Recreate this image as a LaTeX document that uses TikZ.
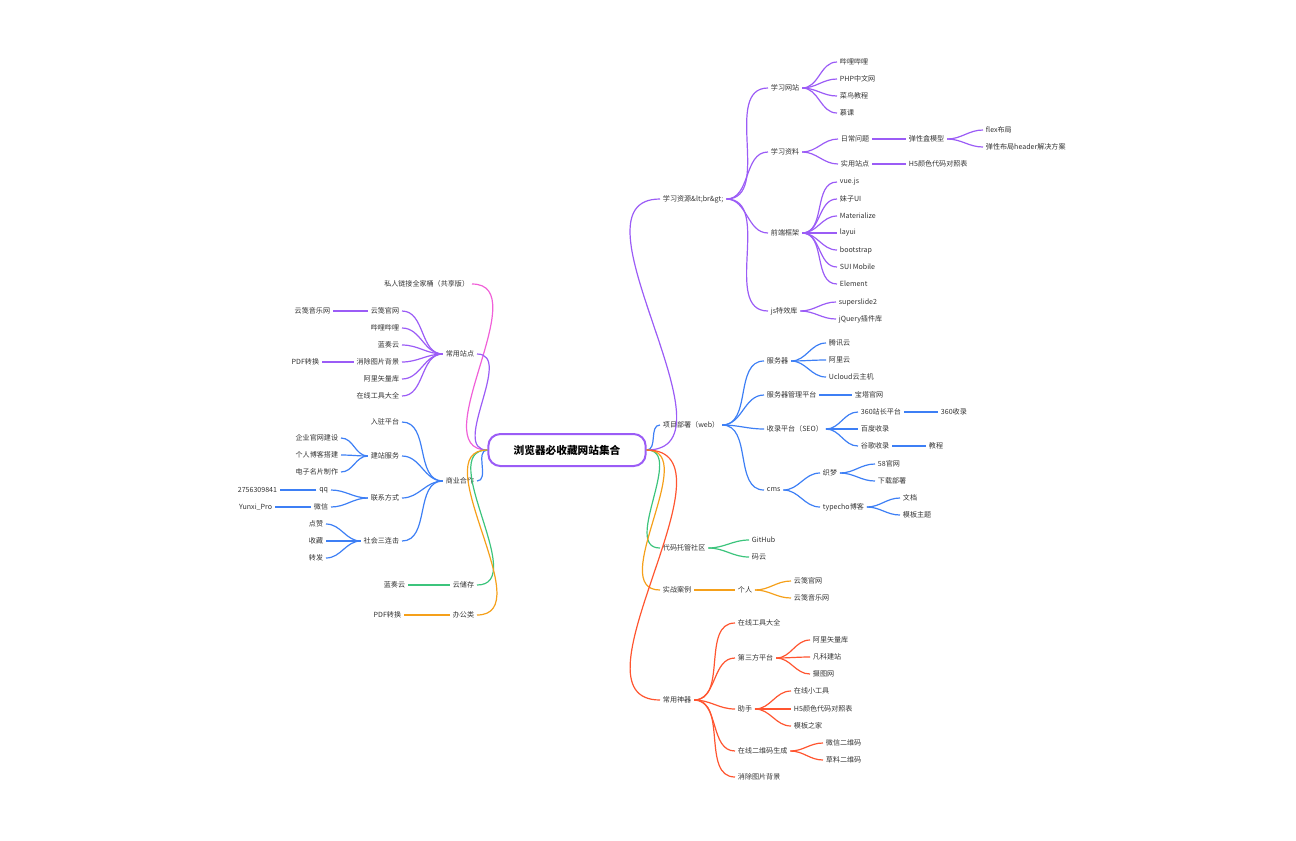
\documentclass[tikz,border=0pt]{standalone}
\usepackage{fontspec}
\setmainfont{Noto Sans CJK SC}
\begin{document}
\begin{tikzpicture}[x=0.75pt,y=-0.75pt,
  txt/.style={inner xsep=2pt,inner ysep=1pt,font=\fontsize{5.3}{6}\selectfont,text=black!80}]
\definecolor{cpu}{HTML}{9B5CF6}
\definecolor{cbl}{HTML}{3D7FF5}
\definecolor{cgr}{HTML}{3CC47C}
\definecolor{cog}{HTML}{F5A01A}
\definecolor{crd}{HTML}{FF5530}
\definecolor{cpk}{HTML}{F060D8}
\tikzset{pu/.style={draw=cpu,line width=0.9pt},bl/.style={draw=cbl,line width=0.9pt},
 gr/.style={draw=cgr,line width=0.9pt},og/.style={draw=cog,line width=0.9pt},
 rd/.style={draw=crd,line width=0.9pt},pk/.style={draw=cpk,line width=0.9pt}}
\newcommand\rn[4]{\node[txt,anchor=west] (#1) at (#2,#3) {#4};}
\newcommand\lnn[4]{\node[txt,anchor=east] (#1) at (#2,#3) {#4};}
\newcommand\re[3]{\draw[#1] (#2.east) to[out=0,in=180] (#3.west);}
\newcommand\lre[3]{\draw[#1] (#2.west) to[out=180,in=0] (#3.east);}
\useasboundingbox (0,0) rectangle (1296,840);
\node[draw=cpu,line width=1.5pt,rounded corners=9pt,minimum width=118,minimum height=24,font=\fontsize{8}{9}\selectfont\bfseries] (root) at (567,450) {浏览器必收藏网站集合};
% right level 1
\rn{a}{660}{199}{学习资源\&lt;br\&gt;}
\rn{b}{660}{425}{项目部署（web）}
\rn{c}{660}{548}{代码托管社区}
\rn{d}{660}{590}{实战案例}
\rn{e}{660}{700}{常用神器}
\re{pu}{root}{a}\re{bl}{root}{b}\re{gr}{root}{c}\re{og}{root}{d}\re{rd}{root}{e}
% 学习资源
\rn{a1}{768}{88}{学习网站}\rn{a2}{768}{152}{学习资料}\rn{a3}{768}{233}{前端框架}\rn{a4}{768}{311}{js特效库}
\re{pu}{a}{a1}\re{pu}{a}{a2}\re{pu}{a}{a3}\re{pu}{a}{a4}
\rn{a11}{837}{62}{哔哩哔哩}\rn{a12}{837}{79}{PHP中文网}\rn{a13}{837}{96}{菜鸟教程}\rn{a14}{837}{113}{慕课}
\re{pu}{a1}{a11}\re{pu}{a1}{a12}\re{pu}{a1}{a13}\re{pu}{a1}{a14}
\rn{a21}{838}{139}{日常问题}\rn{a22}{838}{164}{实用站点}
\re{pu}{a2}{a21}\re{pu}{a2}{a22}
\rn{a211}{906}{139}{弹性盒模型}\re{pu}{a21}{a211}
\rn{a2111}{983}{130}{flex布局}\rn{a2112}{983}{147}{弹性布局header解决方案}
\re{pu}{a211}{a2111}\re{pu}{a211}{a2112}
\rn{a221}{906}{164}{H5颜色代码对照表}\re{pu}{a22}{a221}
\rn{a31}{837}{182}{vue.js}\rn{a32}{837}{199}{妹子UI}\rn{a33}{837}{216}{Materialize}\rn{a34}{837}{233}{layui}
\rn{a35}{837}{250}{bootstrap}\rn{a36}{837}{267}{SUI Mobile}\rn{a37}{837}{284}{Element}
\re{pu}{a3}{a31}\re{pu}{a3}{a32}\re{pu}{a3}{a33}\re{pu}{a3}{a34}\re{pu}{a3}{a35}\re{pu}{a3}{a36}\re{pu}{a3}{a37}
\rn{a41}{836}{302}{superslide2}\rn{a42}{836}{319}{jQuery插件库}
\re{pu}{a4}{a41}\re{pu}{a4}{a42}
% 项目部署
\rn{b1}{764}{361}{服务器}\rn{b2}{764}{395}{服务器管理平台}\rn{b3}{764}{429}{收录平台（SEO）}\rn{b4}{764}{490}{cms}
\re{bl}{b}{b1}\re{bl}{b}{b2}\re{bl}{b}{b3}\re{bl}{b}{b4}
\rn{b11}{826}{343}{腾讯云}\rn{b12}{826}{360}{阿里云}\rn{b13}{826}{377}{Ucloud云主机}
\re{bl}{b1}{b11}\re{bl}{b1}{b12}\re{bl}{b1}{b13}
\rn{b21}{852}{395}{宝塔官网}\re{bl}{b2}{b21}
\rn{b31}{858}{412}{360站长平台}\rn{b32}{858}{429}{百度收录}\rn{b33}{858}{446}{谷歌收录}
\re{bl}{b3}{b31}\re{bl}{b3}{b32}\re{bl}{b3}{b33}
\rn{b311}{938}{412}{360收录}\re{bl}{b31}{b311}
\rn{b331}{926}{446}{教程}\re{bl}{b33}{b331}
\rn{b41}{820}{473}{织梦}\rn{b42}{820}{507}{typecho博客}
\re{bl}{b4}{b41}\re{bl}{b4}{b42}
\rn{b411}{875}{464}{58官网}\rn{b412}{875}{481}{下载部署}
\re{bl}{b41}{b411}\re{bl}{b41}{b412}
\rn{b421}{900}{498}{文档}\rn{b422}{900}{515}{模板主题}
\re{bl}{b42}{b421}\re{bl}{b42}{b422}
% 代码托管
\rn{c1}{749}{540}{GitHub}\rn{c2}{749}{557}{码云}
\re{gr}{c}{c1}\re{gr}{c}{c2}
% 实战案例
\rn{d1}{735}{590}{个人}\re{og}{d}{d1}
\rn{d11}{791}{581}{云笺官网}\rn{d12}{791}{598}{云笺音乐网}
\re{og}{d1}{d11}\re{og}{d1}{d12}
% 常用神器
\rn{e1}{735}{623}{在线工具大全}\rn{e2}{735}{658}{第三方平台}\rn{e3}{735}{709}{助手}
\rn{e4}{735}{751}{在线二维码生成}\rn{e5}{735}{777}{消除图片背景}
\re{rd}{e}{e1}\re{rd}{e}{e2}\re{rd}{e}{e3}\re{rd}{e}{e4}\re{rd}{e}{e5}
\rn{e21}{810}{640}{阿里矢量库}\rn{e22}{810}{657}{凡科建站}\rn{e23}{810}{674}{摄图网}
\re{rd}{e2}{e21}\re{rd}{e2}{e22}\re{rd}{e2}{e23}
\rn{e31}{791}{691}{在线小工具}\rn{e32}{791}{709}{H5颜色代码对照表}\rn{e33}{791}{726}{模板之家}
\re{rd}{e3}{e31}\re{rd}{e3}{e32}\re{rd}{e3}{e33}
\rn{e41}{823}{743}{微信二维码}\rn{e42}{823}{760}{草料二维码}
\re{rd}{e4}{e41}\re{rd}{e4}{e42}
% left level 1
\lnn{f}{472}{284}{私人链接全家桶（共享版）}
\lnn{g}{477}{354}{常用站点}
\lnn{h}{477}{481}{商业合作}
\lnn{i}{477}{585}{云储存}
\lnn{j}{477}{615}{办公类}
\lre{pk}{root}{f}\lre{pu}{root}{g}\lre{bl}{root}{h}\lre{gr}{root}{i}\lre{og}{root}{j}
% 常用站点
\lnn{g1}{402}{311}{云笺官网}\lnn{g2}{402}{328}{哔哩哔哩}\lnn{g3}{402}{345}{蓝奏云}
\lnn{g4}{402}{362}{消除图片背景}\lnn{g5}{402}{379}{阿里矢量库}\lnn{g6}{402}{396}{在线工具大全}
\lre{pu}{g}{g1}\lre{pu}{g}{g2}\lre{pu}{g}{g3}\lre{pu}{g}{g4}\lre{pu}{g}{g5}\lre{pu}{g}{g6}
\lnn{g11}{333}{311}{云笺音乐网}\lre{pu}{g1}{g11}
\lnn{g41}{322}{362}{PDF转换}\lre{pu}{g4}{g41}
% 商业合作
\lnn{h1}{402}{422}{入驻平台}\lnn{h2}{402}{456}{建站服务}\lnn{h3}{402}{498}{联系方式}\lnn{h4}{402}{541}{社会三连击}
\lre{bl}{h}{h1}\lre{bl}{h}{h2}\lre{bl}{h}{h3}\lre{bl}{h}{h4}
\lnn{h21}{341}{438}{企业官网建设}\lnn{h22}{341}{455}{个人博客搭建}\lnn{h23}{341}{472}{电子名片制作}
\lre{bl}{h2}{h21}\lre{bl}{h2}{h22}\lre{bl}{h2}{h23}
\lnn{h31}{331}{490}{qq}\lnn{h32}{331}{507}{微信}
\lre{bl}{h3}{h31}\lre{bl}{h3}{h32}
\lnn{h311}{280}{490}{2756309841}\lre{bl}{h31}{h311}
\lnn{h321}{275}{507}{Yunxi\_Pro}\lre{bl}{h32}{h321}
\lnn{h41}{326}{524}{点赞}\lnn{h42}{326}{541}{收藏}\lnn{h43}{326}{558}{转发}
\lre{bl}{h4}{h41}\lre{bl}{h4}{h42}\lre{bl}{h4}{h43}
\lnn{i1}{408}{585}{蓝奏云}\lre{gr}{i}{i1}
\lnn{j1}{404}{615}{PDF转换}\lre{og}{j}{j1}
\end{tikzpicture}
\end{document}
